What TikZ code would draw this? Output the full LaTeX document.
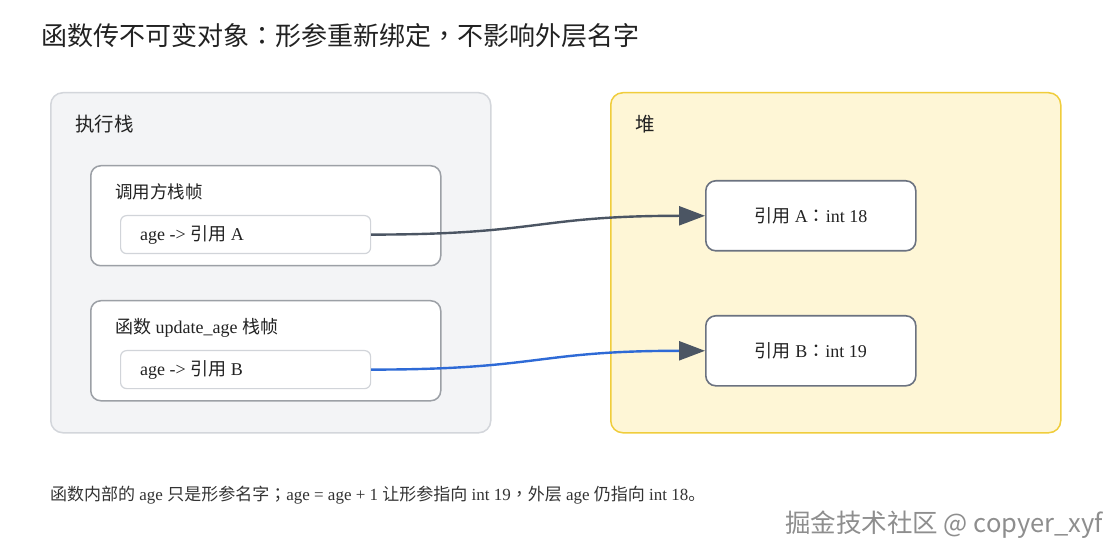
\documentclass[tikz,border=0pt]{standalone}
\usepackage{fontspec}
\setmainfont{Liberation Serif}
\newfontfamily\zh{Noto Sans CJK SC}
\newfontfamily\zhp{Noto Sans CJK TC}
\usetikzlibrary{arrows.meta}
\definecolor{inkc}{HTML}{222222}
\definecolor{captc}{HTML}{333333}
\definecolor{stackfill}{HTML}{F3F4F6}
\definecolor{stackline}{HTML}{D3D6DB}
\definecolor{heapfill}{HTML}{FEF6D6}
\definecolor{heapline}{HTML}{F0CD3C}
\definecolor{frameline}{HTML}{9CA0A6}
\definecolor{slotline}{HTML}{D1D4D9}
\definecolor{objline}{HTML}{6B7280}
\definecolor{arrowgray}{HTML}{4B5563}
\definecolor{arrowblue}{HTML}{2E6AD6}
\definecolor{markgray}{HTML}{8E8E8E}
\newcommand\setfs[1]{\fontsize{#1bp}{#1bp}\selectfont}
\begin{document}
\begin{tikzpicture}[x=1bp,y=-1bp,
  txt/.style={anchor=west, inner sep=0pt, text=inkc},
  container/.style={anchor=north west, rounded corners=12bp, line width=1.5bp, inner sep=0pt},
  stackbox/.style={container, fill=stackfill, draw=stackline},
  heapbox/.style={container, fill=heapfill, draw=heapline},
  framebox/.style={anchor=north west, inner sep=0pt, rounded corners=10bp, line width=1.5bp, fill=white, draw=frameline, minimum width=350bp, minimum height=100bp},
  slotbox/.style={anchor=north west, inner sep=0pt, rounded corners=6bp, line width=1.2bp, fill=white, draw=slotline, minimum width=250bp, minimum height=38bp},
  objbox/.style={anchor=north west, inner sep=0pt, rounded corners=10bp, line width=1.6bp, fill=white, draw=objline, minimum width=210bp, minimum height=70bp, font=\setfs{18}, text=inkc},
  refarrow/.style={line width=2.4bp, -{Triangle[length=26bp, width=19bp, color=arrowgray, fill=arrowgray]}},
]
\useasboundingbox (0,0) rectangle (1120,560);
\fill[white] (0,0) rectangle (1120,560);

% title
\node[txt] (title) at (41,36) {\zh\setfs{26}函数传不可变对象{\zhp ：}形参重新绑定{\zhp ，}不影响外层名字};

% containers
\node[stackbox, minimum width=440bp, minimum height=340bp] (stack) at (50,92) {};
\node[heapbox, minimum width=450bp, minimum height=340bp] (heap) at (610,92) {};
\node[txt] (stacklbl) at (75,124) {\zh\setfs{19.5}执行栈};
\node[txt] (heaplbl) at (635,124) {\zh\setfs{19.5}堆};

% frames
\node[framebox] (frameA) at (90,165) {};
\node[txt] (frameAlbl) at (115,192) {\zh\setfs{17.5}调用方栈帧};
\node[slotbox] (slotA) at (120,215) {};
\node[txt] (slotAtxt) at (140,235) {\setfs{18}age -> {\zh 引用} A};

\node[framebox] (frameB) at (90,300) {};
\node[txt] (frameBlbl) at (115,328) {\setfs{18}{\zh 函数} update\_age {\zh 栈帧}};
\node[slotbox] (slotB) at (120,350) {};
\node[txt] (slotBtxt) at (140,370) {\setfs{18}age -> {\zh 引用} B};

% heap objects
\node[objbox] (objA) at (705,180) {{\zh 引用} A{\zhp ：}int 18};
\node[objbox] (objB) at (705,315) {{\zh 引用} B{\zhp ：}int 19};

% references
\draw[refarrow, arrowgray] (slotA.east) .. controls +(170,0) and +(-170,0) .. (objA.west);
\draw[refarrow, arrowblue] (slotB.east) .. controls +(170,0) and +(-170,0) .. (objB.west);

% caption
\node[txt, text=captc] (caption) at (50,495) {\setfs{17}{\zh 函数内部的} age {\zh 只是形参名字}{\zhp ；}age = age + 1 {\zh 让形参指向} int 19{\zhp ，}{\zh 外层} age {\zh 仍指向} int 18{\zh 。}};

% watermark
\node[txt, text=markgray] (mark) at (785,525) {\zh\setfs{25.5}掘金技术社区 @ copyer\_xyf};
\end{tikzpicture}
\end{document}
